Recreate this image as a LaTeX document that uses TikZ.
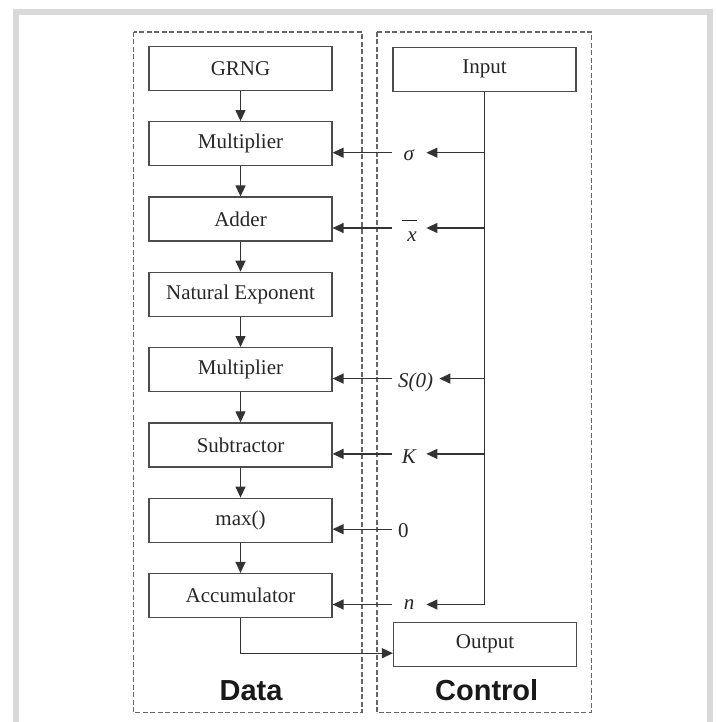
\documentclass[tikz,border=0pt]{standalone}
\usepackage{fontspec}
\setmainfont{Liberation Serif}
\newfontfamily\headfont{Liberation Sans}
\usetikzlibrary{positioning,arrows.meta,calc}

% mean value: x with a raised bar
\newcommand{\xbar}{\makebox[0pt][l]{\rule[0.95em]{0.72em}{0.05em}}\kern0.28em\textit{x}}

\begin{document}
\begin{tikzpicture}[x=1pt,y=-1pt,node distance=30.1pt,
    blk/.style={rectangle, draw=black!70, line width=1.2pt, minimum width=183pt, minimum height=44pt, inner sep=0pt, text=black!85, font=\fontsize{21}{25}\selectfont},
    sym/.style={inner xsep=6pt, inner ysep=0pt, minimum width=34pt, text=black!85, font=\fontsize{21}{25}\selectfont},
    grp/.style={draw=black!60, line width=1.2pt, dash pattern=on 5pt off 2.5pt},
    wire/.style={draw=black!80, line width=1.3pt},
    head/.style={anchor=base, text=black!90, font=\headfont\bfseries\fontsize{29}{33}\selectfont},
    >={Triangle[length=11pt,width=10pt]}]
    \useasboundingbox (0,0) rectangle (715,722);
    \draw[line width=6pt, gray!30] (16,12) rectangle (710,740);

    % data path
    \node[blk] (grng) at (240.5,68.4) {GRNG};
    \node[blk, below=of grng] (mulA) {Multiplier};
    \node[blk, below=of mulA] (add) {Adder};
    \node[blk, below=of add] (nexp) {Natural Exponent};
    \node[blk, below=of nexp] (mulB) {Multiplier};
    \node[blk, below=of mulB] (sub) {Subtractor};
    \node[blk, below=of sub] (mx) {max()};
    \node[blk, below=of mx] (acc) {Accumulator};

    % control path
    \node[blk] (in) at (484.5,69.2) {Input};
    \node[blk] (out) at (485,644.2) {Output};

    \draw[grp] (133.5,32) rectangle (362,712.7);
    \draw[grp] (377,32) rectangle (591.5,712.7);
    \node[head] (dlbl) at (251,700.7) {Data};
    \node[head] (clbl) at (486.7,700.7) {Control};

    \foreach \a/\b in {grng/mulA, mulA/add, add/nexp, nexp/mulB, mulB/sub, sub/mx, mx/acc}
        \draw[wire,->] (\a) -- (\b);

    % where the parameters enter
    \foreach \b/\p in {mulA/pA, add/pB, mulB/pC, sub/pD, mx/pE, acc/pF}
        \coordinate (\p) at ([yshift=-9pt]\b.east);
    \coordinate (lc) at (392,0);

    \node[sym, anchor=base west] (sig) at ($(pA -| lc)+(0,8)$) {\textit{σ}};
    \node[sym, anchor=base west] (xb) at ($(pB -| lc)+(0,13)$) {\xbar};
    \node[sym, anchor=base west] (s0) at ($(pC -| lc)+(0,9)$) {\textit{S(0)}};
    \node[sym, anchor=base west] (kk) at ($(pD -| lc)+(0,10)$) {\textit{K}};
    \node[sym, anchor=base west, minimum width=22pt] (zr) at ($(pE -| lc)+(0,8)$) {0};
    \node[sym, anchor=base west] (nn) at ($(pF -| lc)+(0,5)$) {\textit{n}};

    \foreach \l/\p in {sig/pA, xb/pB, s0/pC, kk/pD, zr/pE, nn/pF}
        \draw[wire,->] (\l.west |- \p) -- (\p);
    \foreach \l/\p in {sig/pA, xb/pB, s0/pC, kk/pD}
        \draw[wire,->] (in.south |- \p) -- (\l.east |- \p);
    \draw[wire,->] (in.south) |- (nn.east |- pF);

    \draw[wire,->] (acc.south) |- ([yshift=-9pt]out.west);
\end{tikzpicture}
\end{document}
